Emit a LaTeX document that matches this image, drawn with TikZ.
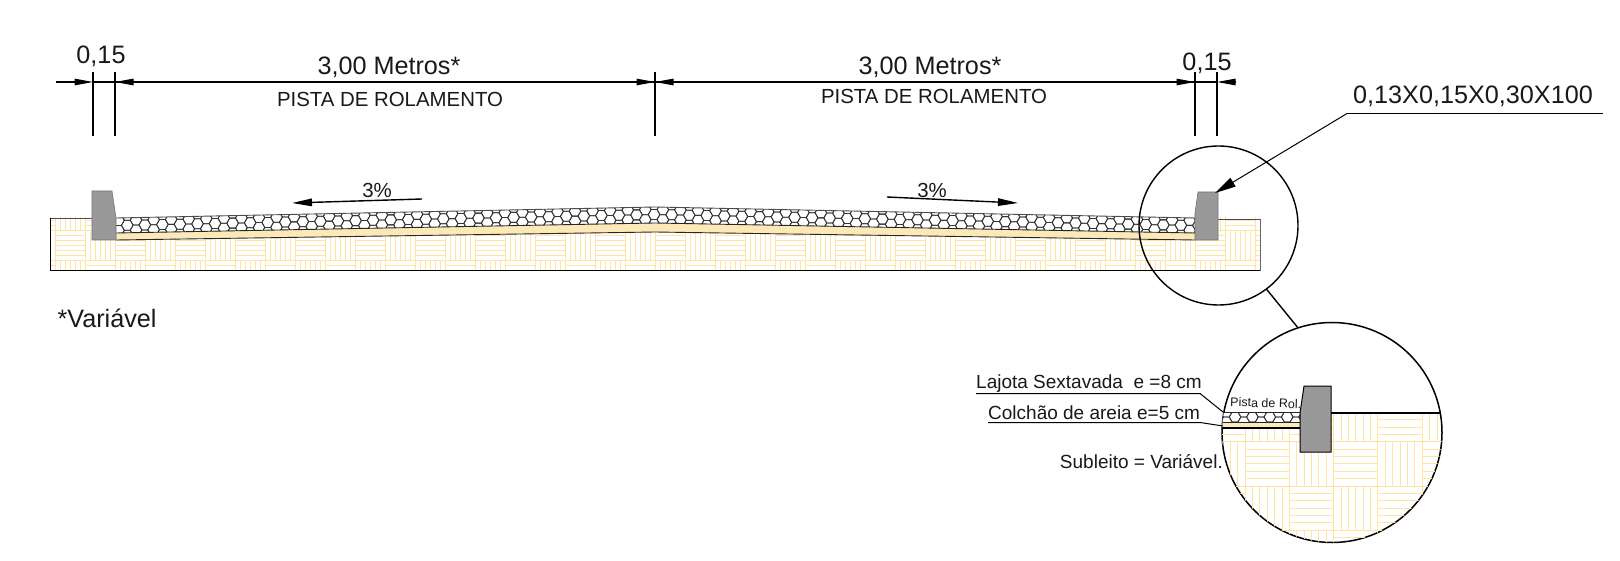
\documentclass[tikz,border=0pt]{standalone}
\usepackage{fontspec}
\setmainfont{Liberation Sans}
\usetikzlibrary{arrows.meta}
\definecolor{hatchcol}{HTML}{FFE4A3}
\definecolor{sandcol}{HTML}{FDE9B8}
\definecolor{curbcol}{HTML}{999999}
\tikzset{
  hatchline/.style={draw=hatchcol,line width=0.85pt},
  hexline/.style={draw=black!80,line width=0.8pt,line join=round},
  edgeline/.style={draw=black!85,line width=0.9pt},
  curbmain/.style={fill=curbcol,draw=black!55,line width=0.6pt},
  curbzoom/.style={fill=curbcol,draw=black,line width=1pt},
  dimtick/.style={draw=black,line width=1.2pt},
  dimline/.style={draw=black,line width=1.1pt},
  dimhead/.style={draw=black,line width=1.1pt,-{Triangle[length=18.5pt,width=6.5pt]}},
  slopearrow/.style={draw=black,line width=1.4pt,-{Triangle[length=20pt,width=7.5pt]}},
  leader/.style={draw=black,line width=1pt},
  leaderhead/.style={draw=black,line width=1pt,-{Triangle[length=21pt,width=10pt]}},
  lens/.style={circle,draw=black,inner sep=0pt,outer sep=0pt},
  txt/.style={anchor=base,inner sep=0pt,text=black!90},
  txtbig/.style={txt,font=\fontsize{25.2}{25}\selectfont},
  txtmid/.style={txt,font=\fontsize{20.4}{20}\selectfont},
  txtsm/.style={txt,font=\fontsize{19}{19}\selectfont},
}
\newcommand{\parquetblocks}[8]{%
  % x0 y0 size divisions kmin kmax rmin rmax
  \pgfmathsetmacro\pqd{#3/#4}%
  \foreach \kk in {#5,...,#6}{%
    \foreach \rr in {#7,...,#8}{%
      \pgfmathsetmacro\pqx{#1+\kk*#3}%
      \pgfmathsetmacro\pqy{#2+\rr*#3}%
      \pgfmathtruncatemacro\pqp{mod(abs(\kk+\rr),2)}%
      \foreach \ii in {0,...,#4}{%
        \pgfmathsetmacro\pqo{\ii*\pqd}%
        \ifnum\pqp=0
          \draw[hatchline] ({\pqx},{\pqy+\pqo}) -- ({\pqx+#3},{\pqy+\pqo});
        \else
          \draw[hatchline] ({\pqx+\pqo},{\pqy}) -- ({\pqx+\pqo},{\pqy+#3});
        \fi
      }%
    }%
  }%
}
\newcommand{\hexcell}[2]{%
  \draw[hexline] ({#1-5.8},{#2}) -- ({#1-2.9},{#2-5}) -- ({#1+2.9},{#2-5})
    -- ({#1+5.8},{#2}) -- ({#1+2.9},{#2+5}) -- ({#1-2.9},{#2+5}) -- cycle;
}
\begin{document}
\begin{tikzpicture}[x=1pt,y=-1pt]
\useasboundingbox (0,0) rectangle (1620,561);
\fill[white] (0,0) rectangle (1620,561);

% ---- main section: subgrade
\begin{scope}
  \clip (50,218) rectangle (1260,271);
  \parquetblocks{55}{230}{30}{6}{-1}{40}{-1}{1}
\end{scope}
\draw[draw=black!70,line width=0.9pt] (50,218) -- (92,218);
\draw[draw=black!70,line width=0.9pt] (1218,219) -- (1260,219);
\draw[draw=black,line width=1pt] (50,218) -- (50,271) -- (1260,271);
\draw[draw=black!60,line width=1pt] (1260,219) -- (1260,271);

% sand and pavers
\fill[sandcol] (116,233) -- (655,223) -- (1195,233) -- (1195,240) -- (655,232) -- (116,240) -- cycle;
\fill[white] (116,218) -- (655,207) -- (1195,218) -- (1195,233) -- (655,223) -- (116,233) -- cycle;
\begin{scope}
  \clip (116,218) -- (655,207) -- (1195,218) -- (1195,233) -- (655,223) -- (116,233) -- cycle;
  \foreach \ii in {0,...,124}{%
    \pgfmathsetmacro\hxx{109.7+\ii*8.78}%
    \pgfmathsetmacro\hxtop{\hxx<655 ? 218-(\hxx-116)*11/539 : 207+(\hxx-655)*11/540}%
    \pgfmathsetmacro\hxoff{7.5-5*mod(\ii,2)}%
    \foreach \jj in {-1,0,1}{%
      \pgfmathsetmacro\hyy{\hxtop+\hxoff+\jj*10}%
      \hexcell{\hxx}{\hyy}%
    }%
  }
\end{scope}
\draw[draw=black!70,line width=0.9pt] (116,218) -- (655,207) -- (1195,218);
\draw[edgeline] (116,233) -- (655,223) -- (1195,233);
\draw[edgeline] (116,240) -- (655,232) -- (1195,240);

% curbs
\draw[curbmain] (92,191) -- (112,191) -- (116,218) -- (116,240) -- (92,240) -- cycle;
\draw[curbmain] (1198,192) -- (1218,192) -- (1218,240) -- (1195,240) -- (1195,213) -- cycle;

% ---- dimensions
\coordinate (dL0) at (56,82);
\coordinate (dA) at (93,82);
\coordinate (dB) at (115,82);
\coordinate (dC) at (655,82);
\coordinate (dD) at (1195,82);
\coordinate (dE) at (1217,82);
\coordinate (dR0) at (1236,82);
\coordinate (dBs) at (134,82);
\coordinate (dBt) at (208,82);
\coordinate (dCl) at (636,82);
\coordinate (dCr) at (674,82);
\coordinate (dDs) at (1176,82);
\coordinate (dDt) at (1158,82);
\coordinate (tA) at (93,136);
\coordinate (tB) at (115,136);
\coordinate (tC) at (655,136);
\coordinate (tD) at (1195,136);
\coordinate (tE) at (1217,136);
\coordinate (uA) at (93,72);
\coordinate (uB) at (115,72);
\coordinate (uC) at (655,72);
\coordinate (uD) at (1195,72);
\coordinate (uE) at (1217,72);
\draw[dimtick] (uA) -- (tA);
\draw[dimtick] (uB) -- (tB);
\draw[dimtick] (uC) -- (tC);
\draw[dimtick] (uD) -- (tD);
\draw[dimtick] (uE) -- (tE);
\draw[dimline] (dB) -- (dD);
\draw[dimline] (dD) -- (dE);
\draw[dimline] (dA) -- (dB);
\draw[draw=black,line width=1.7pt] (dBs) -- (dBt);
\draw[draw=black,line width=1.7pt] (dDs) -- (dDt);
\draw[dimhead] (dL0) -- (dA);
\draw[dimhead] (dBs) -- (dB);
\draw[dimhead] (dCl) -- (dC);
\draw[dimhead] (dCr) -- (dC);
\draw[dimhead] (dDs) -- (dD);
\draw[dimhead] (dR0) -- (dE);

\node[txtbig] (lblA) at (101,64) {0,15};
\node[txtbig] (lblB) at (389,75) {3,00 Metros*};
\node[txtmid] (lblC) at (390,107) {PISTA DE ROLAMENTO};
\node[txtbig] (lblD) at (930,75) {3,00 Metros*};
\node[txtmid] (lblE) at (934,104) {PISTA DE ROLAMENTO};
\node[txtbig] (lblF) at (1207,71) {0,15};
\node[txtbig] (lblG) at (1473,104) {0,13X0,15X0,30X100};
\node[txtbig] (lblH) at (107,328) {*Variável};

% slope marks
\node[txtmid] (slopeL) at (377,198) {3\%};
\node[txtmid] (slopeR) at (932,198) {3\%};
\coordinate (sLa) at (422,199);
\coordinate (sLb) at (292,203);
\coordinate (sRa) at (887,197);
\coordinate (sRb) at (1018,203);
\draw[slopearrow] (sLa) -- (sLb);
\draw[slopearrow] (sRa) -- (sRb);

% leader to curb
\coordinate (ldA) at (1603,113.5);
\coordinate (ldB) at (1347,113.5);
\coordinate (ldC) at (1215,193);
\draw[leader] (ldA) -- (ldB);
\draw[leaderhead] (ldB) -- (ldC);

% ---- lenses
\node[lens,line width=1.4pt,minimum size=159pt] (mag1) at (1218.5,225.5) {};
\node[lens,line width=1.5pt,minimum size=220pt] (mag2) at (1332,432.5) {};
\draw[draw=black,line width=1.4pt] (mag1.-53) -- (mag2.108);

% detail inside large lens
\begin{scope}
  \clip (1332,432.5) circle (110);
  \begin{scope}
    \clip (1200,413) rectangle (1450,545);
    \parquetblocks{1245}{441.7}{44.3}{6}{-1}{4}{-1}{2}
  \end{scope}
  \fill[white] (1215,412) rectangle (1300,422);
  \fill[sandcol] (1215,422) rectangle (1300,428);
  \begin{scope}
    \clip (1215,412) rectangle (1300,422);
    \foreach \ii in {0,...,10}{%
      \pgfmathsetmacro\hxx{1217.6+\ii*8.7}%
      \pgfmathsetmacro\hxoff{5-5*mod(\ii,2)}%
      \foreach \jj in {0,1}{%
        \pgfmathsetmacro\hyy{412+\hxoff+\jj*10}%
        \hexcell{\hxx}{\hyy}%
      }%
    }
  \end{scope}
  \draw[edgeline] (1215,412) -- (1300,412);
  \draw[edgeline] (1215,422) -- (1300,422);
  \draw[draw=black,line width=1.4pt] (1215,428) -- (1300,428);
  \draw[draw=black,line width=1.1pt] (1331,413) -- (1450,413);
\end{scope}
\draw[curbzoom] (1304,386) -- (1331,386) -- (1331,452) -- (1300,452) -- (1300,413) -- cycle;
\node[txt,anchor=base west,rotate=-1.5,font=\fontsize{12.5}{12.5}\selectfont] (lblPista) at (1230,406.5) {Pista de Rol.};

% detail labels
\node[txtsm,anchor=base west] (lblLaj) at (976,388) {Lajota Sextavada\ \ e =8 cm};
\node[txtsm,anchor=base west] (lblCol) at (988,419.5) {Colchão de areia e=5 cm};
\node[txtsm,anchor=base east] (lblSub) at (1223,468) {Subleito = Variável.};
\coordinate (lajA) at (976,393.5);
\coordinate (lajB) at (1200,393.5);
\coordinate (lajC) at (1223,412);
\coordinate (colA) at (988,422.5);
\coordinate (colB) at (1200,422.5);
\coordinate (colC) at (1223,426);
\draw[leader] (lajA) -- (lajB) -- (lajC);
\draw[leader] (colA) -- (colB) -- (colC);
\end{tikzpicture}
\end{document}
